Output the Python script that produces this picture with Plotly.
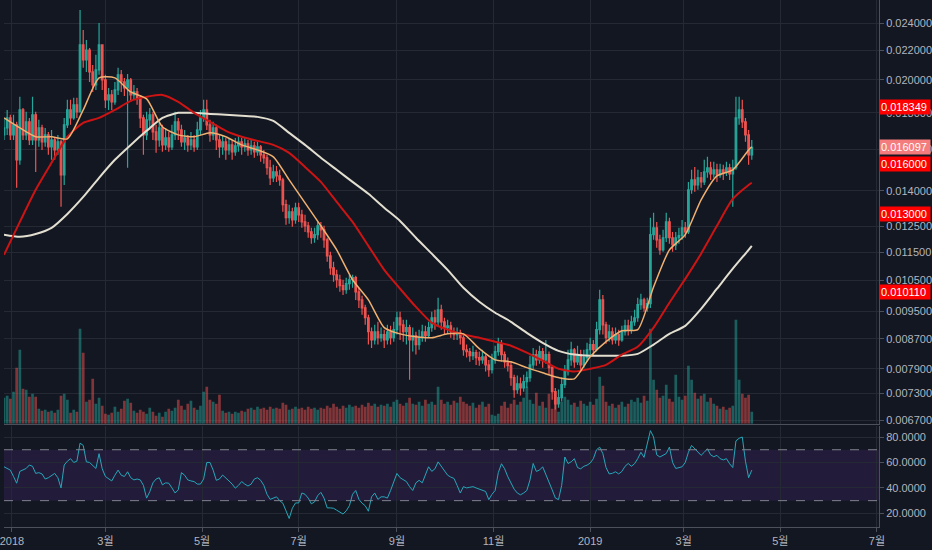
import math
import pandas as pd
import plotly.graph_objects as go

# 2-day candles, prices in millionths (1e-6)
start_open = 16760
close_e6 = [
    17140, 17700, 16760, 17310, 15470, 18160, 16760, 17480, 16490, 17880,
    16490, 17140, 16390, 16760, 16130, 16490, 15970, 16390, 14740, 17310,
    18160, 17700, 18460, 18050, 22380, 21330, 22020, 20520, 19680, 20650,
    22380, 20000, 18760, 19060, 18640, 19370, 20330, 19870, 19490, 20000,
    19060, 19240, 18880, 17700, 16760, 17590, 17880, 16920, 16490, 17140,
    16230, 16600, 16130, 16760, 17480, 17030, 16390, 16600, 16230, 16490,
    16130, 17030, 17700, 18160, 17310, 16760, 17140, 16490, 16130, 16390,
    15970, 16230, 15870, 16180, 16390, 16130, 16290, 15970, 16180, 15870,
    16130, 15720, 15570, 15080, 14600, 14880, 14690, 14500, 13390, 12840,
    13090, 12750, 13260, 12960, 12670, 12510, 12270, 12040, 12160, 12510,
    12350, 11960, 11360, 10930, 10690, 10520, 10320, 10190, 10390, 10520,
    10590, 10120, 9860, 9610, 9310, 8900, 8670, 8900, 8730, 8820,
    8670, 8900, 8730, 8960, 9310, 9100, 8900, 9020, 8670, 8790,
    8540, 8730, 8900, 8790, 9020, 9310, 9190, 9550, 9190, 9020,
    9070, 8900, 8820, 8870, 8730, 8400, 8350, 8240, 8320, 8190,
    8130, 8210, 8000, 7880, 8130, 8350, 8560, 8270, 8080, 7980,
    7680, 7390, 7530, 7430, 7580, 7680, 8000, 8270, 8130, 8350,
    8130, 8270, 7930, 7340, 7060, 7200, 7510, 7830, 8130, 8400,
    8080, 8270, 8000, 8190, 8400, 8540, 8400, 8960, 9860, 9100,
    8730, 8900, 8670, 8820, 8670, 8900, 9070, 8960, 9190, 9310,
    9710, 9860, 9610, 9740, 12160, 12430, 11960, 11580, 12040, 12670,
    12040, 11770, 12040, 12120, 12430, 12270, 14050, 14500, 14270, 14600,
    14410, 14880, 15080, 14790, 14980, 14740, 14980, 14840, 15080, 14790,
    15080, 17700, 18160, 17480, 16760, 15720, 16097,
]
high_e6 = [
    17700, 18160, 17880, 17880, 17480, 18940, 18280, 18050, 17700, 18940,
    18050, 17590, 17310, 17140, 16920, 17030, 16600, 16760, 16490, 17700,
    18760, 18760, 18880, 18880, 25040, 23490, 22740, 22170, 20990, 21680,
    24020, 22380, 20330, 19490, 19370, 19870, 20790, 20650, 20130, 20390,
    20130, 19680, 19490, 19060, 17880, 18050, 18280, 18050, 17310, 17480,
    17310, 17140, 16920, 17310, 18050, 17700, 17310, 17030, 16760, 16920,
    16760, 17480, 18160, 18760, 18760, 17590, 17480, 17310, 16760, 16760,
    16600, 16600, 16490, 16600, 16760, 16600, 16600, 16490, 16490, 16390,
    16390, 16230, 15970, 15720, 15470, 15220, 15170, 14980, 14600, 13600,
    13390, 13260, 13470, 13470, 13170, 12960, 12670, 12430, 12430, 12670,
    12670, 12510, 12040, 11510, 11150, 10860, 10690, 10520, 10590, 10690,
    10690, 10660, 10250, 9990, 9710, 9400, 9020, 9100, 9190, 9020,
    8960, 9100, 9070, 9190, 9490, 9490, 9250, 9250, 9100, 9020,
    8900, 8960, 9100, 9070, 9190, 9490, 9550, 9930, 9710, 9310,
    9250, 9190, 9020, 9020, 8960, 8820, 8540, 8450, 8510, 8400,
    8350, 8400, 8270, 8130, 8290, 8510, 8730, 8670, 8350, 8190,
    8080, 7750, 7730, 7680, 7750, 7830, 8240, 8450, 8400, 8510,
    8450, 8670, 8350, 8000, 7430, 7390, 7680, 8000, 8400, 8620,
    8450, 8510, 8400, 8400, 8590, 8730, 8670, 9190, 10190, 10020,
    9190, 9100, 9020, 9020, 8960, 9070, 9250, 9250, 9370, 9550,
    9930, 10060, 9930, 9930, 12840, 13050, 12670, 12160, 12350, 13050,
    12840, 12270, 12270, 12430, 12750, 12670, 14410, 14980, 15120, 14980,
    14880, 15470, 15620, 15370, 15370, 15270, 15270, 15220, 15370, 15270,
    15470, 18940, 18940, 18760, 17700, 17030, 16490,
]
low_e6 = [
    16490, 16760, 16490, 16490, 14140, 15220, 16490, 16490, 16230, 16230,
    14880, 16130, 15970, 16130, 15720, 15470, 15470, 15720, 13300, 14270,
    17140, 17310, 17590, 17700, 18050, 20790, 20520, 19870, 19240, 19370,
    20330, 19370, 18280, 18160, 18160, 18460, 19060, 19240, 19000, 15080,
    18640, 18760, 18460, 17140, 15720, 16490, 17030, 16490, 15820, 16130,
    15870, 15970, 15870, 15970, 16490, 16490, 16130, 15970, 15870, 15970,
    15870, 15970, 16760, 17480, 17030, 16390, 16490, 15970, 15570, 15720,
    15470, 15720, 15470, 15670, 15870, 15720, 15870, 15670, 15720, 15570,
    15670, 15370, 15270, 14740, 14270, 14410, 14410, 14230, 13090, 12550,
    12590, 12470, 12590, 12670, 12430, 12270, 12040, 11810, 11850, 11960,
    12040, 11660, 11150, 10690, 10450, 10250, 10120, 10020, 10060, 10190,
    10250, 9860, 9610, 9400, 9100, 8540, 8450, 8540, 8540, 8620,
    8450, 8540, 8540, 8620, 8820, 8670, 8620, 8540, 7630, 8350,
    8270, 8400, 8620, 8620, 8730, 8900, 8960, 9070, 8960, 8820,
    8840, 8730, 8670, 8670, 8540, 8240, 8190, 8080, 8130, 8000,
    7980, 8030, 7830, 7700, 7780, 8030, 8240, 8080, 7930, 7830,
    7480, 7200, 7290, 7250, 7340, 7430, 7580, 7880, 7980, 8030,
    7930, 8030, 7750, 7150, 6930, 6970, 7110, 7430, 7730, 7980,
    7930, 8000, 7830, 7930, 8080, 8240, 8240, 8350, 8820, 8820,
    8560, 8620, 8540, 8560, 8510, 8620, 8790, 8790, 8840, 9070,
    9190, 9550, 9490, 9490, 9610, 11960, 11660, 11400, 11510, 11880,
    11810, 11510, 11580, 11810, 11960, 12040, 12190, 13870, 13960, 14050,
    14140, 14270, 14600, 14500, 14600, 14410, 14600, 14500, 14690, 14500,
    13300, 14980, 17310, 17140, 16390, 15220, 15470,
]
volume_m = [
    26, 28, 25, 32, 56, 74, 35, 34, 27, 30,
    27, 15, 13, 14, 12, 13, 11, 14, 28, 30,
    24, 11, 14, 12, 95, 71, 22, 24, 45, 20,
    26, 18, 10, 9, 11, 17, 12, 15, 23, 25,
    21, 13, 11, 14, 12, 10, 16, 12, 8, 11,
    7, 12, 15, 13, 16, 24, 18, 14, 20, 23,
    16, 14, 18, 32, 37, 24, 22, 20, 29, 13,
    11, 12, 10, 12, 11, 13, 12, 15, 16, 14,
    17, 15, 16, 14, 17, 15, 16, 15, 21, 19,
    14, 15, 17, 15, 16, 14, 17, 15, 16, 14,
    16, 15, 18, 16, 20, 17, 15, 18, 16, 19,
    17, 18, 16, 19, 17, 21, 18, 20, 17, 19,
    18, 20, 17, 22, 24, 20, 18, 21, 26, 20,
    19, 22, 18, 24, 20, 22, 19, 37, 24, 20,
    22, 19, 23, 21, 27, 22, 20, 18, 21, 16,
    19, 22, 17, 20, 9, 8, 10, 18, 22, 16,
    20, 24, 19, 22, 26, 37, 24, 20, 31, 18,
    22, 16, 30, 15, 20, 12, 22, 27, 24, 19,
    21, 17, 23, 20, 18, 22, 19, 25, 47, 38,
    22, 18, 20, 16, 19, 22, 17, 20, 24, 22,
    26, 21, 28, 23, 95, 44, 34, 26, 28, 39,
    25, 22, 49, 27, 24, 28, 58, 44, 31, 25,
    28, 30, 22, 26, 20, 18, 15, 17, 14, 16,
    18, 104, 44, 30, 26, 29, 12,
]
rsi_vals = [
    56.6, 55, 54, 49, 43.7, 53, 54, 55.3, 58, 57,
    51.4, 52, 51, 47, 48, 50, 51.4, 48, 40, 58,
    61, 63, 60, 61, 75.2, 73.4, 60.5, 60, 58, 55.3,
    66.9, 55, 49, 47, 45.5, 50, 54, 50, 49, 52.7,
    48, 46.3, 47, 46.3, 42, 32, 37, 44, 47, 48,
    42.4, 44, 43.7, 40, 36, 38.5, 52, 50, 46.3, 45.5,
    45, 43, 43, 47, 60, 60, 54, 46, 47, 50.1,
    48, 45.5, 43, 39.8, 42, 45, 43, 41.5, 43, 47,
    48, 46, 42, 35, 31, 32, 33, 30, 28, 22,
    16, 24, 28.2, 28.2, 36, 35, 32, 27.5, 29, 34,
    36.5, 32, 24.3, 24.3, 24, 22.5, 21, 19.5, 22, 26,
    35, 38, 31, 28, 26, 21.7, 33, 36, 31, 33,
    33, 32, 38, 45, 51.4, 48, 46.5, 45, 41, 38,
    44, 46, 44, 50, 56.6, 53, 55, 60.5, 57, 54,
    50, 48.5, 47.5, 42, 36, 41, 40, 40.5, 41, 40,
    39, 38, 37.2, 30.8, 35, 38, 52, 59, 55, 48.8,
    44, 39, 36, 34.6, 36, 38, 46.3, 59.2, 53, 54,
    56.6, 51, 44, 38.5, 32.1, 30.8, 42, 64.3, 59.2, 60.5,
    63, 56, 55, 57, 57.9, 59.5, 63, 70, 72, 66.9,
    56, 51, 51.5, 52.7, 51, 53, 57, 59.2, 57, 59,
    63, 68, 64, 75, 85, 80, 66, 64.3, 66, 67,
    72.1, 60, 55.3, 56, 56.6, 60, 68, 73.4, 71, 68.5,
    65.6, 68, 70.8, 66, 64.5, 65.6, 63, 62, 63, 59,
    56, 77, 79, 80, 61, 48, 54,
]
# moving averages, sampled every 5th candle plus the last one
ma_fast_e6 = [
    17700, 17140, 16660, 16660, 16550, 18160, 20130, 20130, 19240, 18820,
    17200, 16760, 16660, 16870, 16660, 16230, 15970, 15620, 14500, 13470,
    12510, 11580, 10520, 9860, 9020, 8840, 8760, 8730, 8840, 8840,
    8430, 8130, 8080, 7930, 7800, 7680, 7650, 8210, 8620, 8930,
    8960, 10280, 11580, 12160, 13600, 14690, 14980, 15970, 16130,
]
ma_mid_e6 = [
    11400, 12670, 14050, 15320, 16660, 17420, 17700, 18160, 18700, 18940,
    19060, 18640, 17990, 17480, 16980, 16660, 16440, 16230, 15820, 15120,
    14410, 13510, 12670, 11730, 10860, 10220, 9640, 9160, 8960, 8820,
    8730, 8620, 8510, 8320, 8110, 7900, 7830, 7900, 8000, 8270,
    8480, 9020, 9770, 10550, 11440, 12510, 13640, 14270, 14370,
]
ma_slow_e6 = [
    12160, 12080, 12190, 12430, 13000, 13730, 14600, 15470, 16230, 16980,
    17700, 17990, 17990, 17930, 17880, 17820, 17760, 17530, 16870, 16230,
    15570, 14980, 14410, 13870, 13260, 12710, 12040, 11440, 10860, 10250,
    9800, 9460, 9190, 8870, 8590, 8370, 8270, 8240, 8240, 8240,
    8290, 8540, 8840, 9070, 9580, 10220, 10900, 11580, 11730,
]
level_prices = [0.018349, 0.016000, 0.013000, 0.010110]
last_price = 0.016097
price_ticks = [0.024, 0.022, 0.020, 0.018, 0.016, 0.014, 0.0125, 0.0115,
               0.0105, 0.0095, 0.0087, 0.0079, 0.0073, 0.0067]
rsi_ticks = [20, 40, 60, 80]
month_ticks = ["2018-01-01", "2018-03-01", "2018-05-01", "2018-07-01", "2018-09-01",
               "2018-11-01", "2019-01-01", "2019-03-01", "2019-05-01", "2019-07-01"]
month_labels = ["2018", "3월", "5월", "7월", "9월", "11월", "2019", "3월", "5월", "7월"]

BG = "#131722"
GRID = "#252934"
LINE = "#4c505b"
TXT = "#b2b5be"
UP = "#26a69a"
DOWN = "#ef5350"
FONT = "Liberation Sans, Noto Sans CJK KR, sans-serif"

dates = pd.date_range("2017-12-27", periods=len(close_e6), freq="2D")
ma_dates = list(dates[::5]) + [dates[-1]]

close = [c * 1e-6 for c in close_e6]
opens = [start_open * 1e-6] + close[:-1]
high = [max(h * 1e-6, o, c) for h, o, c in zip(high_e6, opens, close)]
low = [min(l * 1e-6, o, c) for l, o, c in zip(low_e6, opens, close)]
vol_colors = ["rgba(38,166,154,0.5)" if c >= o else "rgba(239,83,80,0.5)"
              for o, c in zip(opens, close)]

fig = go.Figure()
fig.add_trace(go.Bar(
    x=dates, y=volume_m, marker_color=vol_colors, marker_line_width=0,
    xaxis="x", yaxis="y", hoverinfo="skip",
))
fig.add_trace(go.Candlestick(
    x=dates, open=opens, high=high, low=low, close=close,
    increasing=dict(line=dict(color=UP, width=1.2), fillcolor=UP),
    decreasing=dict(line=dict(color=DOWN, width=1.2), fillcolor=DOWN),
    whiskerwidth=0, xaxis="x", yaxis="y2", hoverinfo="skip",
))
for vals, color, width in [(ma_slow_e6, "#e3dfd0", 2),
                           (ma_mid_e6, "#cc1414", 2),
                           (ma_fast_e6, "#f0b070", 1.5)]:
    fig.add_trace(go.Scatter(
        x=ma_dates, y=[v * 1e-6 for v in vals], mode="lines",
        line=dict(color=color, width=width, shape="spline", smoothing=0.6),
        xaxis="x", yaxis="y2", hoverinfo="skip",
    ))
fig.add_trace(go.Scatter(
    x=dates, y=rsi_vals, mode="lines", line=dict(color="#26a7b9", width=1),
    xaxis="x2", yaxis="y3", hoverinfo="skip",
))

shapes = [
    dict(type="rect", xref="paper", x0=0, x1=1, yref="y3", y0=30, y1=70,
         fillcolor="rgba(120,60,200,0.15)", line_width=0, layer="below"),
]
for lvl in (30, 70):
    shapes.append(dict(type="line", xref="paper", x0=0, x1=1, yref="y3", y0=lvl, y1=lvl,
                       line=dict(color="#80838d", width=1, dash="dash")))
for p in level_prices:
    shapes.append(dict(type="line", xref="paper", x0=0, x1=1, yref="y2",
                       y0=math.log10(p), y1=math.log10(p),
                       line=dict(color="#ff0000", width=2)))
shapes.append(dict(type="line", xref="paper", x0=0, x1=1, yref="y2",
                   y0=math.log10(last_price), y1=math.log10(last_price),
                   line=dict(color="#f0605c", width=1, dash="dot")))

annotations = []
for p in level_prices:
    annotations.append(dict(
        xref="paper", x=1, xanchor="left", yref="y2", y=math.log10(p),
        text=f"{p:.6f}", showarrow=False, bgcolor="#ff0000", borderpad=1,
        width=48, align="left", font=dict(color="white", size=11, family=FONT),
        yshift=-15 if p == 0.016 else 0,
    ))
annotations.append(dict(
    xref="paper", x=1, xanchor="left", yref="y2", y=math.log10(last_price),
    text=f"{last_price:.6f}", showarrow=False, bgcolor="#f47c7c", borderpad=1,
    width=48, align="left", font=dict(color="white", size=11, family=FONT),
))

axis_font = dict(color=TXT, size=11, family=FONT)
fig.update_layout(
    width=932, height=550,
    margin=dict(l=0, r=51, t=0, b=23),
    paper_bgcolor=BG, plot_bgcolor=BG,
    showlegend=False, bargap=0.15,
    font=dict(family=FONT, color=TXT),
    shapes=shapes, annotations=annotations,
    xaxis=dict(
        domain=[0, 1], anchor="y", type="date",
        range=["2017-12-27", "2019-07-02 07:00"],
        tickvals=month_ticks, showticklabels=False, ticks="",
        showgrid=True, gridcolor=GRID, showline=True, linecolor=LINE,
        rangeslider=dict(visible=False), zeroline=False,
    ),
    xaxis2=dict(
        domain=[0, 1], anchor="y3", matches="x", type="date",
        tickvals=month_ticks, ticktext=month_labels, tickfont=axis_font,
        ticks="outside", ticklen=4, tickcolor=LINE, ticklabeloverflow="allow",
        showgrid=True, gridcolor=GRID, showline=True, linecolor=LINE,
        zeroline=False,
    ),
    yaxis=dict(
        domain=[0.196, 1], anchor="x", range=[0, max(volume_m) * 4.08],
        visible=False, showgrid=False, zeroline=False,
    ),
    yaxis2=dict(
        overlaying="y", anchor="x", side="right", type="log",
        range=[math.log10(0.006622), math.log10(0.02586)],
        tickvals=price_ticks, ticktext=[f"{t:.6f}" for t in price_ticks],
        tickfont=axis_font, ticks="outside", ticklen=4, tickcolor=LINE,
        ticklabeloverflow="allow",
        showgrid=True, gridcolor=GRID, showline=True, linecolor=LINE,
        zeroline=False,
    ),
    yaxis3=dict(
        domain=[0, 0.192], anchor="x2", side="right", range=[9.3, 88.8],
        tickvals=rsi_ticks, ticktext=[f"{t:.4f}" for t in rsi_ticks],
        tickfont=axis_font, ticks="outside", ticklen=4, tickcolor=LINE,
        ticklabeloverflow="allow",
        showgrid=True, gridcolor=GRID, showline=True, linecolor=LINE,
        zeroline=False,
    ),
)

fig.write_html("out.html", config={"displayModeBar": False},
               post_script="document.body.style.margin='0';")
